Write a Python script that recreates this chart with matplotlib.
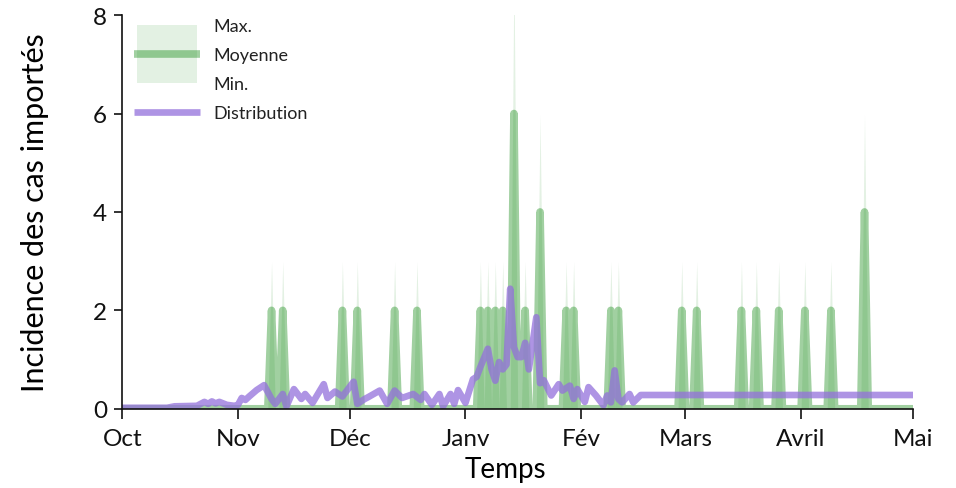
import numpy as np
import pandas as pd
import matplotlib
matplotlib.use("Agg")
import matplotlib.pyplot as plt
from matplotlib.legend_handler import HandlerBase
from matplotlib.patches import Rectangle
from matplotlib.lines import Line2D

plt.rcParams["font.family"] = ["Lato", "DejaVu Sans"]

# période couverte
start_date = "2018-10-01"
end_date = "2019-05-01"

# cas importés : jours avec des cas (moyenne et max des simulations), min = 0
spike_dates = ["2018-11-10", "2018-11-13", "2018-11-29", "2018-12-03", "2018-12-13",
               "2018-12-19", "2019-01-05", "2019-01-07", "2019-01-09", "2019-01-11",
               "2019-01-14", "2019-01-17", "2019-01-21", "2019-01-28", "2019-01-30",
               "2019-02-09", "2019-02-11", "2019-02-28", "2019-03-04", "2019-03-16",
               "2019-03-20", "2019-03-26", "2019-04-02", "2019-04-09", "2019-04-18"]
mean_vals = [2, 2, 2, 2, 2, 2, 2, 2, 2, 2, 6, 2, 4, 2, 2, 2, 2, 2, 2, 2, 2, 2, 2, 2, 4]
max_vals = [3, 3, 3, 3, 3, 3, 3, 3, 3, 3, 9, 3, 6, 3, 3, 3, 3, 3, 3, 3, 3, 3, 3, 3, 6]

# distribution (jours depuis le 1er oct., valeur)
dist_days = [0, 12, 14, 20, 22, 23, 24, 25, 26, 28, 30, 31, 32, 33, 34, 36, 38, 40, 41,
             43, 44, 46, 48, 49, 51, 54, 55, 57, 59, 62, 63, 65, 66, 69, 71, 73, 75, 78,
             80, 81, 83, 85, 86, 88, 89, 90, 92, 94, 95, 96, 98, 99, 100, 101, 102, 103,
             104, 105, 106, 107, 108, 109, 111, 112, 113, 115, 117, 118, 120, 121, 122,
             124, 125, 127, 129, 130, 131, 132, 133, 134, 136, 137, 139, 212]
dist_vals = [0.02, 0.02, 0.05, 0.06, 0.14, 0.10, 0.15, 0.11, 0.14, 0.08, 0.06, 0.08,
             0.22, 0.18, 0.25, 0.38, 0.48, 0.20, 0.10, 0.30, 0.05, 0.40, 0.20, 0.30,
             0.12, 0.50, 0.22, 0.35, 0.25, 0.55, 0.10, 0.20, 0.24, 0.37, 0.10, 0.37,
             0.22, 0.30, 0.18, 0.30, 0.08, 0.30, 0.05, 0.30, 0.10, 0.38, 0.12, 0.60,
             0.65, 0.85, 1.22, 0.80, 0.57, 0.95, 0.80, 0.90, 2.44, 1.25, 1.05, 1.05,
             1.34, 0.80, 1.86, 0.52, 0.58, 0.27, 0.50, 0.37, 0.47, 0.20, 0.40, 0.14,
             0.44, 0.27, 0.07, 0.27, 0.13, 0.78, 0.20, 0.13, 0.30, 0.13, 0.28, 0.28]

month_labels = ["Oct", "Nov", "Déc", "Janv", "Fév", "Mars", "Avril", "Mai"]

GREEN = "green"
PURPLE = "#9370DB"

days = pd.date_range(start_date, end_date, freq="D")
mean_s = pd.Series(0.0, index=days)
max_s = pd.Series(0.0, index=days)
min_s = pd.Series(0.0, index=days)
mean_s[pd.to_datetime(spike_dates)] = mean_vals
max_s[pd.to_datetime(spike_dates)] = max_vals
dist_x = pd.Timestamp(start_date) + pd.to_timedelta(dist_days, unit="D")


class RangeHandler(HandlerBase):
    """Rectangle clair (max/min) qui couvre trois lignes, avec la moyenne au milieu."""

    def __init__(self, span, **kw):
        super().__init__(**kw)
        self.span = span

    def create_artists(self, legend, orig_handle, xdescent, ydescent, width, height,
                       fontsize, trans):
        cy = height / 2 - ydescent
        inset = 2.2
        rect = Rectangle((-xdescent + inset, cy - self.span), width - 2 * inset, 2 * self.span,
                         facecolor=GREEN, alpha=0.11, edgecolor="none", transform=trans)
        line = Line2D([-xdescent, -xdescent + width], [cy, cy], color=GREEN, alpha=0.37,
                      lw=5.5, solid_capstyle="butt", transform=trans)
        return [rect, line]


fig = plt.figure(figsize=(9.56, 4.89), dpi=100)
ax = fig.add_axes([0.128, 0.162, 0.827, 0.805])

ax.fill_between(days, min_s.values, max_s.values, color=GREEN, alpha=0.11, lw=0)
ax.plot(days, mean_s.values, color=GREEN, alpha=0.37, lw=5.5)
ax.plot(dist_x, dist_vals, color=PURPLE, alpha=0.75, lw=4.8)

ax.set_xlim(pd.Timestamp(start_date), pd.Timestamp(end_date))
ax.set_ylim(0, 8)
ax.set_yticks([0, 2, 4, 6, 8])
ax.set_xticks(pd.date_range(start_date, end_date, freq="MS"))
ax.set_xticklabels(month_labels)

for s in ["top", "right"]:
    ax.spines[s].set_visible(False)
for s in ["left", "bottom"]:
    ax.spines[s].set_linewidth(1.2)
    ax.spines[s].set_color("#111111")
ax.tick_params(axis="both", direction="out", length=6, width=1.2, labelsize=17.5,
               colors="#111111", pad=5)
ax.tick_params(axis="x", length=7, pad=7)

ax.set_xlabel("Temps", fontsize=20)
ax.xaxis.set_label_coords(0.484, -0.12)
ax.set_ylabel("Incidence des cas importés", fontsize=22)
ax.yaxis.set_label_coords(-0.093, 0.5)

h_blank = Line2D([], [], color="none")
h_mean = object()
h_dist = Line2D([], [], color=PURPLE, alpha=0.75, lw=4.8, solid_capstyle="butt")
leg = ax.legend([h_blank, h_mean, h_blank, h_dist], ["Max.", "Moyenne", "Min.", "Distribution"],
                handler_map={h_mean: RangeHandler(span=20.9)},
                loc="upper left", bbox_to_anchor=(0.006, 1.01), frameon=False, fontsize=13,
                handlelength=3.65, handletextpad=0.72, labelspacing=0.72, borderaxespad=0.0)
for t in leg.get_texts():
    t.set_color("#222222")

fig.savefig("out.png", dpi=100, facecolor="white")
